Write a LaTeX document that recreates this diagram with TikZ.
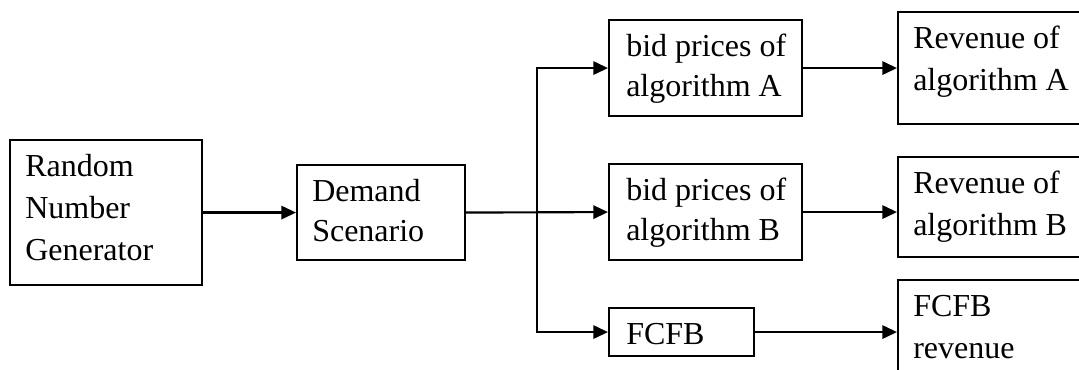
\documentclass[tikz,border=0pt]{standalone}
\usepackage{fontspec}
\setmainfont{Liberation Serif}
\usetikzlibrary{arrows.meta}

\begin{document}
\begin{tikzpicture}[x=0.75pt, y=-0.75pt,
  box/.style={draw, line width=1.6pt, inner sep=0pt, anchor=north west},
  txt/.style={anchor=north west, inner sep=0pt, align=left,
    font=\fontsize{24}{#1}\selectfont},
  txt/.default=31pt,
  flow/.style={line width=1.6pt, -{Triangle[length=11pt, width=10pt]}}]
  \useasboundingbox (0,0) rectangle (1079,370);
  \clip (0,0) rectangle (1079,370);

  % boxes (top-left corner, size in px)
  \node[box, minimum width=192*0.75pt, minimum height=145*0.75pt] (rng)  at (9,139)   {};
  \node[box, minimum width=168*0.75pt, minimum height=95*0.75pt]  (dem)  at (296,164) {};
  \node[box, minimum width=193*0.75pt, minimum height=96*0.75pt]  (bidA) at (608,19)  {};
  \node[box, minimum width=193*0.75pt, minimum height=96*0.75pt]  (bidB) at (608,163) {};
  \node[box, minimum width=145*0.75pt, minimum height=48*0.75pt]  (fcfb) at (608,307) {};
  \node[box, minimum width=203*0.75pt, minimum height=112*0.75pt] (revA) at (897,11)  {};
  \node[box, minimum width=203*0.75pt, minimum height=100*0.75pt] (revB) at (897,156) {};
  \node[box, minimum width=203*0.75pt, minimum height=121*0.75pt] (revF) at (897,279) {};

  % box texts, first baseline 37px below the top edge
  \newcommand\firstline{\rule{0pt}{27.75pt}}
  \node[txt=31.5pt] (rngT)  at ([xshift=12pt] rng.north west)    {\firstline Random\\Number\\Generator};
  \node[txt=30pt]   (demT)  at ([xshift=12pt] dem.north west)    {\firstline Demand\\Scenario};
  \node[txt=30pt]   (bidAT) at ([xshift=13.5pt] bidA.north west) {\firstline bid prices of\\algorithm A};
  \node[txt=30pt]   (bidBT) at ([xshift=13.5pt] bidB.north west) {\firstline bid prices of\\algorithm B};
  \node[txt=30pt]   (fcfbT) at ([xshift=13.5pt] fcfb.north west) {\firstline FCFB};
  \node[txt=31.5pt] (revAT) at ([xshift=12pt] revA.north west)   {\firstline Revenue of\\algorithm A};
  \node[txt=31.5pt] (revBT) at ([xshift=12pt] revB.north west)   {\firstline Revenue of\\algorithm B};
  \node[txt=32pt]   (revFT) at ([xshift=12pt] revF.north west)   {\firstline FCFB\\revenue};

  % connectors
  \coordinate (split) at (537,212);
  \draw[flow] (rng.east) -- (dem.west);
  \draw[flow] (dem.east) -- (bidB.west);
  \draw[flow] (split) |- (bidA.west);
  \draw[flow] (split) |- (fcfb.west);
  \draw[flow] (bidA.east) -- (bidA.east -| revA.west);
  \draw[flow] (bidB.east) -- (bidB.east -| revB.west);
  \draw[flow] (fcfb.east) -- (fcfb.east -| revF.west);
\end{tikzpicture}
\end{document}
